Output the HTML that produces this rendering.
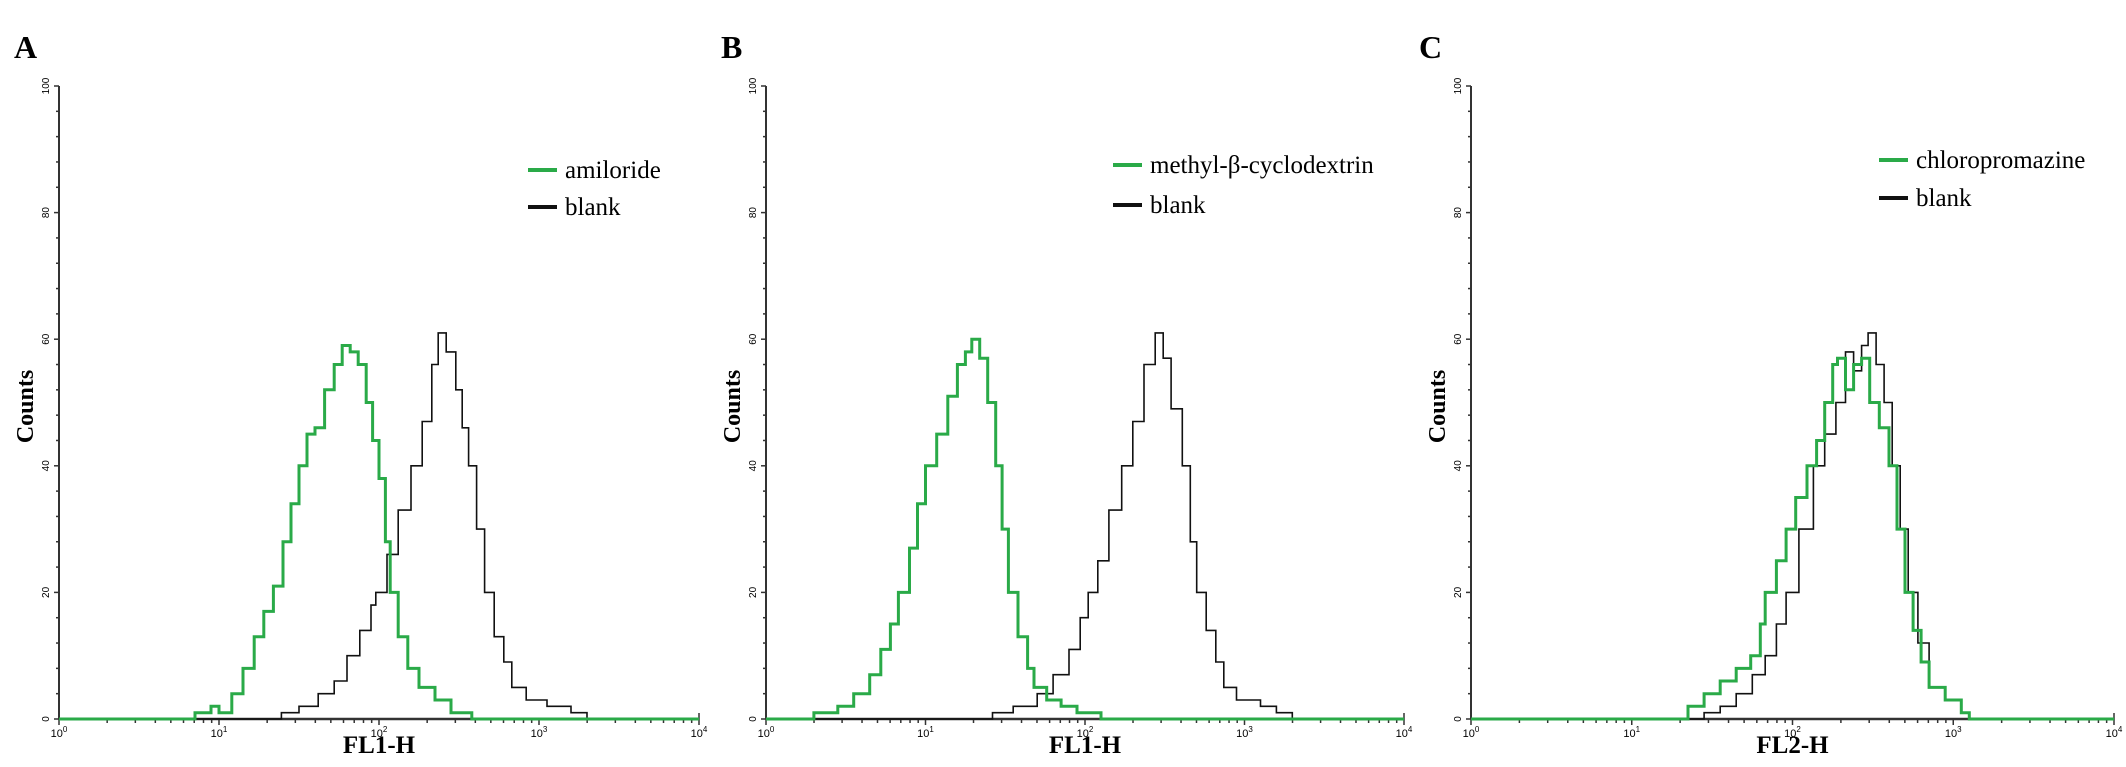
<!DOCTYPE html>
<html><head><meta charset="utf-8"><style>
html,body{margin:0;padding:0;background:#fff;}
svg{display:block;font-family:"Liberation Serif",serif;}
</style></head><body>
<svg id="chart" width="2126" height="767" viewBox="0 0 2126 767"></svg>
<script>
// log10 fluorescence positions and counts
const aGreenX=[0.78,0.85,0.95,1.0,1.08,1.15,1.22,1.28,1.34,1.40,1.45,1.50,1.55,1.60,1.66,1.72,1.77,1.82,1.87,1.92,1.96,2.00,2.04,2.07,2.12,2.18,2.25,2.35,2.45,2.58];
const aGreenY=[0,1,2,1,4,8,13,17,21,28,34,40,45,46,52,56,59,58,56,50,44,38,28,20,13,8,5,3,1,0];
const aBlackX=[0.75,1.2,1.39,1.5,1.62,1.72,1.8,1.88,1.95,1.98,2.05,2.12,2.2,2.27,2.33,2.37,2.42,2.48,2.52,2.56,2.61,2.66,2.72,2.78,2.83,2.92,3.05,3.2,3.3];
const aBlackY=[0,0,1,2,4,6,10,14,18,20,26,33,40,47,56,61,58,52,46,40,30,20,13,9,5,3,2,1,0];
const bGreenX=[0.15,0.3,0.45,0.55,0.65,0.72,0.78,0.83,0.9,0.95,1.0,1.07,1.14,1.2,1.25,1.29,1.34,1.39,1.44,1.48,1.52,1.58,1.64,1.68,1.76,1.85,1.95,2.1];
const bGreenY=[0,1,2,4,7,11,15,20,27,34,40,45,51,56,58,60,57,50,40,30,20,13,8,5,3,2,1,0];
const bBlackX=[1.28,1.42,1.55,1.7,1.8,1.9,1.97,2.02,2.08,2.15,2.23,2.3,2.37,2.44,2.49,2.54,2.61,2.66,2.7,2.76,2.82,2.87,2.95,3.1,3.2,3.3];
const bBlackY=[0,1,2,4,7,11,16,20,25,33,40,47,56,61,57,49,40,28,20,14,9,5,3,2,1,0];
const cGreenX=[1.23,1.35,1.45,1.55,1.65,1.74,1.8,1.83,1.9,1.96,2.02,2.09,2.15,2.2,2.25,2.28,2.33,2.38,2.43,2.48,2.54,2.6,2.65,2.7,2.75,2.8,2.85,2.95,3.05,3.1];
const cGreenY=[0,2,4,6,8,10,15,20,25,30,35,40,44,50,56,57,52,56,57,50,46,40,30,20,14,9,5,3,1,0];
const cBlackX=[1.32,1.45,1.55,1.65,1.75,1.83,1.9,1.96,2.04,2.13,2.2,2.27,2.33,2.38,2.43,2.47,2.52,2.57,2.62,2.67,2.72,2.78,2.85,2.95,3.05,3.1];
const cBlackY=[0,1,2,4,7,10,15,20,30,40,45,50,58,55,59,61,56,50,40,30,20,12,5,3,1,0];
const yTicks=[0,20,40,60,80,100];
const xDecades=[0,1,2,3,4];

const NS="http://www.w3.org/2000/svg";
const svg=document.getElementById('chart');
function el(t,a,p){const e=document.createElementNS(NS,t);for(const k in a)e.setAttribute(k,a[k]);(p||svg).appendChild(e);return e;}

const panels=[
 {letter:'A',lx:14,x0:59,x1:699,xlab:'FL1-H',leg:['amiloride','blank'],legX:528,legY:[170,207],g:[aGreenX,aGreenY],b:[aBlackX,aBlackY]},
 {letter:'B',lx:721,x0:766,x1:1404,xlab:'FL1-H',leg:['methyl-β-cyclodextrin','blank'],legX:1113,legY:[165,205],g:[bGreenX,bGreenY],b:[bBlackX,bBlackY]},
 {letter:'C',lx:1419,x0:1471,x1:2114,xlab:'FL2-H',leg:['chloropromazine','blank'],legX:1879,legY:[160,198],g:[cGreenX,cGreenY],b:[cBlackX,cBlackY]}
];
const yTop=86,yZero=719;
function yS(v){return yZero-(v/100)*(yZero-yTop);}

panels.forEach(p=>{
 const xS=l=>p.x0+(l/4)*(p.x1-p.x0);
 const g=el('g',{});
 
 
 const L=el('text',{x:p.lx,y:58,'font-size':32,'font-weight':'bold'},g);L.textContent=p.letter;
 
 const ya=el('line',{x1:p.x0,y1:yTop,x2:p.x0,y2:yZero,stroke:'#333','stroke-width':2},g);
 
 for(let v=0;v<=100;v+=4){el('line',{x1:p.x0-(v%20===0?5:3),y1:yS(v),x2:p.x0,y2:yS(v),stroke:'#333','stroke-width':1.5},g);}
 yTicks.forEach(v=>{const t=el('text',{x:0,y:0,'font-size':10,'font-family':'Liberation Sans,sans-serif','text-anchor':'middle',transform:`translate(${p.x0-10},${yS(v)}) rotate(-90)`},g);t.textContent=v;
  });
 const yl=el('text',{x:0,y:0,'font-size':24,'font-weight':'bold','text-anchor':'middle',transform:`translate(${p.x0-26},${(yTop+yZero)/2+4}) rotate(-90)`},g);yl.textContent='Counts';
 
 const xa=el('line',{x1:p.x0,y1:yZero,x2:p.x1,y2:yZero,stroke:'#333','stroke-width':2.5},g);
 
 for(let d=0;d<4;d++)for(let m=1;m<=9;m++){const xx=xS(d+Math.log10(m));el('line',{x1:xx,y1:yZero,x2:xx,y2:yZero+(m===1?6:4),stroke:'#333','stroke-width':1.5},g);}
 el('line',{x1:p.x1,y1:yZero-6,x2:p.x1,y2:yZero+6,stroke:'#333','stroke-width':1.5},g);
 xDecades.forEach(d=>{const t=el('text',{x:xS(d),y:yZero+18,'font-size':11,'font-family':'Liberation Sans,sans-serif','text-anchor':'middle'},g);
  t.innerHTML='10<tspan dy="-5" font-size="8">'+d+'</tspan>';
  });
 const xl=el('text',{x:(p.x0+p.x1)/2,y:753,'font-size':25,'font-weight':'bold','text-anchor':'middle'},g);xl.textContent=p.xlab;
 
 function series(xs,ys,color,w,name){let d='';xs.forEach((l,i)=>{const X=xS(l),Y=yS(ys[i]);d+=(i?`H${X.toFixed(1)}V${Y.toFixed(1)}`:`M${X.toFixed(1)},${Y.toFixed(1)}`);});
  const full=`M${p.x0},${yZero}H${xS(xs[0])}`+d.replace(/^M[^H]*/,m=>'L'+m.slice(1))+`V${yZero}H${p.x1}`;
  const s=el('path',{d:full,fill:'none',stroke:color,'stroke-width':w,'stroke-linejoin':'miter'},g);
  }
 series(p.b[0],p.b[1],'#111',1.6,'blank-histogram');
 series(p.g[0],p.g[1],'#2aaa48',3,'treated-histogram');
 [['#2aaa48',p.leg[0]],['#111',p.leg[1]]].forEach((e,i)=>{
  const lg=el('g',{},g);
  el('line',{x1:p.legX,y1:p.legY[i],x2:p.legX+29,y2:p.legY[i],stroke:e[0],'stroke-width':4},lg);
  const t=el('text',{x:p.legX+37,y:p.legY[i]+8,'font-size':25},lg);t.textContent=e[1];});
});
</script>
</body></html>
